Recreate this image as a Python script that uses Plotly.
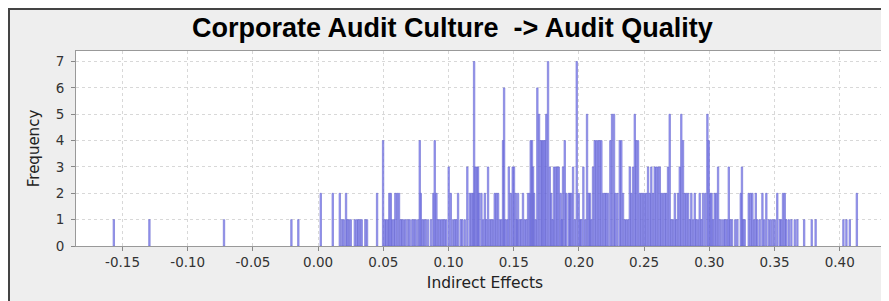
import plotly.graph_objects as go

# ---- data (bar centre -> frequency) ----
effects = [
    -0.1567, -0.1294, -0.0722, -0.0205, -0.0152, 0.0020, 0.0112, 0.0166, 0.0183, 0.0196,
    0.0214, 0.0224, 0.0237, 0.0250, 0.0281, 0.0296, 0.0308, 0.0321, 0.0334, 0.0362,
    0.0375, 0.0452, 0.0498, 0.0511, 0.0523, 0.0536, 0.0546, 0.0557, 0.0567, 0.0580,
    0.0592, 0.0607, 0.0620, 0.0633, 0.0645, 0.0658, 0.0671, 0.0689, 0.0702, 0.0722,
    0.0735, 0.0748, 0.0766, 0.0779, 0.0787, 0.0800, 0.0812, 0.0825, 0.0843, 0.0866,
    0.0884, 0.0894, 0.0907, 0.0919, 0.0932, 0.0945, 0.0958, 0.0970, 0.0983, 0.1001,
    0.1017, 0.1034, 0.1047, 0.1060, 0.1073, 0.1093, 0.1106, 0.1124, 0.1144, 0.1163,
    0.1176, 0.1188, 0.1196, 0.1206, 0.1218, 0.1226, 0.1234, 0.1252, 0.1265, 0.1278,
    0.1290, 0.1303, 0.1316, 0.1329, 0.1341, 0.1354, 0.1367, 0.1380, 0.1393, 0.1405,
    0.1418, 0.1426, 0.1436, 0.1451, 0.1462, 0.1477, 0.1492, 0.1502, 0.1515, 0.1525,
    0.1533, 0.1546, 0.1558, 0.1571, 0.1584, 0.1597, 0.1610, 0.1623, 0.1630, 0.1640,
    0.1648, 0.1656, 0.1668, 0.1681, 0.1694, 0.1707, 0.1718, 0.1728, 0.1738, 0.1750,
    0.1763, 0.1776, 0.1788, 0.1798, 0.1809, 0.1821, 0.1834, 0.1845, 0.1860, 0.1868,
    0.1878, 0.1891, 0.1903, 0.1922, 0.1932, 0.1942, 0.1955, 0.1968, 0.1983, 0.1998,
    0.2008, 0.2018, 0.2034, 0.2049, 0.2062, 0.2075, 0.2085, 0.2095, 0.2108, 0.2121,
    0.2134, 0.2147, 0.2159, 0.2172, 0.2185, 0.2198, 0.2210, 0.2223, 0.2241, 0.2254,
    0.2269, 0.2279, 0.2295, 0.2313, 0.2325, 0.2338, 0.2351, 0.2364, 0.2377, 0.2390,
    0.2402, 0.2415, 0.2428, 0.2440, 0.2453, 0.2466, 0.2479, 0.2492, 0.2504, 0.2517,
    0.2530, 0.2543, 0.2555, 0.2568, 0.2581, 0.2594, 0.2607, 0.2620, 0.2632, 0.2645,
    0.2658, 0.2670, 0.2683, 0.2696, 0.2709, 0.2722, 0.2735, 0.2747, 0.2760, 0.2773,
    0.2785, 0.2798, 0.2811, 0.2824, 0.2837, 0.2850, 0.2862, 0.2875, 0.2888, 0.2900,
    0.2913, 0.2926, 0.2939, 0.2952, 0.2969, 0.2985, 0.2995, 0.3008, 0.3017, 0.3028,
    0.3041, 0.3054, 0.3067, 0.3080, 0.3097, 0.3113, 0.3123, 0.3138, 0.3149, 0.3161,
    0.3174, 0.3199, 0.3215, 0.3241, 0.3250, 0.3260, 0.3271, 0.3302, 0.3317, 0.3330,
    0.3343, 0.3356, 0.3368, 0.3386, 0.3407, 0.3420, 0.3437, 0.3456, 0.3471, 0.3488,
    0.3502, 0.3521, 0.3540, 0.3552, 0.3565, 0.3578, 0.3590, 0.3609, 0.3629, 0.3655,
    0.3675, 0.3727, 0.3785, 0.3815, 0.4028, 0.4051, 0.4077, 0.4131,
]
frequency = [
    1, 1, 1, 1, 1, 2, 2, 2, 1, 1,
    2, 1, 1, 1, 1, 1, 1, 1, 1, 1,
    1, 2, 4, 1, 1, 1, 2, 2, 1, 1,
    2, 2, 2, 1, 1, 1, 1, 1, 1, 1,
    1, 1, 1, 4, 2, 1, 1, 1, 1, 1,
    2, 4, 2, 1, 1, 1, 1, 1, 1, 3,
    2, 1, 1, 1, 2, 1, 1, 1, 3, 2,
    2, 2, 7, 3, 3, 3, 2, 2, 1, 2,
    1, 3, 1, 1, 1, 2, 2, 2, 1, 1,
    4, 6, 1, 1, 3, 2, 3, 3, 2, 1,
    2, 1, 1, 2, 1, 1, 2, 2, 4, 4,
    3, 2, 1, 6, 5, 4, 4, 4, 4, 5,
    7, 3, 2, 1, 3, 3, 3, 3, 2, 1,
    3, 4, 2, 2, 2, 2, 3, 1, 7, 2,
    1, 1, 3, 1, 5, 2, 2, 1, 3, 4,
    4, 4, 4, 4, 2, 2, 2, 2, 4, 5,
    5, 2, 2, 4, 4, 2, 1, 1, 1, 3,
    2, 3, 5, 4, 4, 2, 2, 2, 2, 2,
    3, 2, 3, 2, 3, 3, 3, 3, 2, 2,
    2, 2, 3, 5, 1, 1, 2, 1, 2, 3,
    5, 4, 2, 2, 2, 1, 2, 1, 2, 1,
    1, 2, 1, 2, 2, 5, 4, 2, 2, 1,
    2, 2, 3, 1, 1, 1, 1, 1, 3, 1,
    1, 1, 1, 2, 3, 1, 1, 2, 2, 2,
    1, 2, 1, 1, 2, 1, 2, 1, 1, 1,
    1, 2, 1, 1, 2, 2, 1, 1, 1, 1,
    1, 1, 1, 1, 1, 1, 1, 2,
]

x_tick_vals = [-0.15, -0.10, -0.05, 0.00, 0.05, 0.10, 0.15, 0.20, 0.25, 0.30, 0.35, 0.40]
x_tick_text = ["-0.15", "-0.10", "-0.05", "0.00", "0.05", "0.10", "0.15", "0.20",
               "0.25", "0.30", "0.35", "0.40"]
y_tick_vals = [0, 1, 2, 3, 4, 5, 6, 7]

title_text = "Corporate Audit Culture  -&gt; Audit Quality"
x_title = "Indirect Effects"
y_title = "Frequency"

# ---- layout constants ----
W, H = 889, 301
ML, MR, MT, MB = 68, 3, 43, 63
pw = W - ML - MR
ph = H - MT - MB

fig = go.Figure()
fig.add_trace(go.Bar(
    x=effects, y=frequency, width=0.0011,
    marker=dict(color="rgba(125,125,245,0.72)",
                line=dict(color="rgba(100,100,205,1)", width=0.6)),
    hoverinfo="skip",
))

tick_font = dict(family="DejaVu Sans", size=13.5, color="#333333")
fig.update_layout(
    width=W, height=H,
    margin=dict(l=ML, r=MR, t=MT, b=MB, pad=0, autoexpand=False),
    paper_bgcolor="#EEEEEE",
    plot_bgcolor="#FFFFFF",
    showlegend=False,
    title=dict(text="<b>" + title_text + "</b>", x=0.5, xanchor="center",
               xref="container", yref="container", y=1 - 20 / H, yanchor="middle",
               font=dict(family="Liberation Sans", size=27, color="#000000")),
    xaxis=dict(range=[-0.1857, 0.4416], tickvals=x_tick_vals, ticktext=x_tick_text,
               ticks="outside", ticklen=4, tickcolor="#888888", tickfont=tick_font,
               showgrid=True, gridcolor="#D8D8D8", griddash="3px,3px", gridwidth=1,
               zeroline=False, showline=True, linecolor="#999999", linewidth=1,
               mirror=True, automargin=False,
               title=dict(text=x_title, standoff=7,
                          font=dict(family="DejaVu Sans", size=15.5, color="#222222"))),
    yaxis=dict(range=[0, 7.4], tickvals=y_tick_vals,
               ticks="outside", ticklen=4, tickcolor="#888888", tickfont=tick_font,
               ticklabelstandoff=4,
               showgrid=True, gridcolor="#D8D8D8", griddash="3px,3px", gridwidth=1,
               zeroline=False, showline=True, linecolor="#999999", linewidth=1,
               mirror=True, automargin=False,
               title=dict(text=y_title, standoff=12,
                          font=dict(family="DejaVu Sans", size=15, color="#222222"))),
)

# outer frame around the whole picture
fig.add_shape(type="rect", xref="paper", yref="paper",
              x0=(-ML + 1) / pw, x1=(pw + MR - 1) / pw,
              y0=(-MB + 1) / ph, y1=(ph + MT - 1) / ph,
              line=dict(color="#444444", width=2), fillcolor="rgba(0,0,0,0)",
              layer="above")

fig.write_html("out.html")
